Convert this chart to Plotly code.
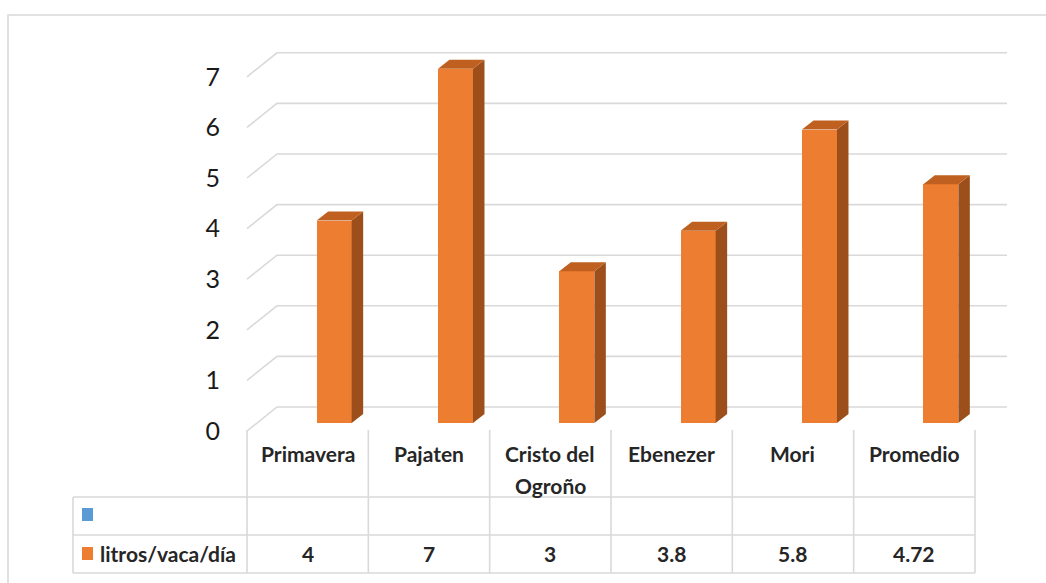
import plotly.graph_objects as go

# ---------------- data ----------------
categories = ["Primavera", "Pajaten", "Cristo del<br>Ogroño", "Ebenezer", "Mori", "Promedio"]
values = [4, 7, 3, 3.8, 5.8, 4.72]
value_labels = ["4", "7", "3", "3.8", "5.8", "4.72"]
series_name = "litros/vaca/día"
y_ticks = [0, 1, 2, 3, 4, 5, 6, 7]

# ---------------- geometry (pixel based) ----------------
W, H = 1046, 583
PX_X0 = 247.0      # left edge of first category (front plane)
PX_COL = 121.33    # width of one category
PX_Y0 = 431.0      # front-plane zero line
PX_UNIT = 50.6     # pixels per value unit


def ux(px):  # pixel distance -> x units
    return px / PX_COL


def uy(px):  # pixel distance -> y units
    return px / PX_UNIT


def xdat(px):  # absolute pixel x -> data x
    return (px - PX_X0) / PX_COL - 0.5


def ydat(py):  # absolute pixel y -> data y
    return (PX_Y0 - py) / PX_UNIT


x_range = [xdat(0), xdat(W)]
y_range = [ydat(H), ydat(0)]

BACK_DX, BACK_DY = ux(30), uy(24)       # depth of the back wall
BAR_OFF, BAR_W = ux(26.5), ux(35)       # bar centre offset and width
BAR_BASE = uy(8)                        # bar front face raised above front floor
BAR_DX, BAR_DY = ux(11.5), uy(9)        # bar depth

FRONT = "#ED7D31"
TOP = "#BF6020"
SIDE = "#9C4F1B"
GRID = "#D9D9D9"
TEXT = "#262626"
FONT = "Lato, Carlito, Calibri, sans-serif"
TXT_SIZE = 21

n = len(categories)
fig = go.Figure()
shapes = []

# ---------- grid lines (back wall + side wall), below the bars ----------
x_back_l = -0.5 + BACK_DX
x_back_r = xdat(1007)
for v in y_ticks:
    path = (f"M {-0.5},{v} L {x_back_l},{v + BACK_DY} L {x_back_r},{v + BACK_DY}")
    shapes.append(dict(type="path", xref="x", yref="y", path=path, layer="below",
                       line=dict(color=GRID, width=1.6)))

# ---------- bars: front faces ----------
bar_x = [i + BAR_OFF for i in range(n)]
fig.add_trace(go.Bar(x=bar_x, y=values, base=[BAR_BASE] * n, width=BAR_W,
                     marker=dict(color=FRONT, line=dict(width=0)),
                     hoverinfo="skip", showlegend=False))

# ---------- bars: side and top faces ----------
sx, sy, tx, ty = [], [], [], []
for xc, v in zip(bar_x, values):
    xl, xr = xc - BAR_W / 2, xc + BAR_W / 2
    top = v + BAR_BASE
    sx += [xr, xr + BAR_DX, xr + BAR_DX, xr, xr, None]
    sy += [BAR_BASE, BAR_BASE + BAR_DY, top + BAR_DY, top, BAR_BASE, None]
    tx += [xl, xl + BAR_DX, xr + BAR_DX, xr, xl, None]
    ty += [top, top + BAR_DY, top + BAR_DY, top, top, None]
fig.add_trace(go.Scatter(x=sx, y=sy, mode="lines", fill="toself", fillcolor=SIDE,
                         line=dict(width=0, color=SIDE), hoverinfo="skip", showlegend=False))
fig.add_trace(go.Scatter(x=tx, y=ty, mode="lines", fill="toself", fillcolor=TOP,
                         line=dict(width=0, color=TOP), hoverinfo="skip", showlegend=False))

# ---------- data table ----------
t_left = xdat(73)
t_top = ydat(430)
r1 = ydat(497)
r2 = ydat(535)
r3 = ydat(573)
for k in range(n + 1):
    shapes.append(dict(type="line", xref="x", yref="y", x0=k - 0.5, x1=k - 0.5,
                       y0=t_top, y1=r3, line=dict(color=GRID, width=1.6)))
shapes.append(dict(type="line", xref="x", yref="y", x0=t_left, x1=t_left,
                   y0=r1, y1=r3, line=dict(color=GRID, width=1.6)))
for yy in (r1, r2, r3):
    shapes.append(dict(type="line", xref="x", yref="y", x0=t_left, x1=n - 0.5,
                       y0=yy, y1=yy, line=dict(color=GRID, width=1.6)))

# legend keys
shapes.append(dict(type="rect", xref="x", yref="y", x0=xdat(82), x1=xdat(93),
                   y0=ydat(521), y1=ydat(508), fillcolor="#5B9BD5", line=dict(width=0)))
shapes.append(dict(type="rect", xref="x", yref="y", x0=xdat(82), x1=xdat(93),
                   y0=ydat(560), y1=ydat(547), fillcolor=FRONT, line=dict(width=0)))

# outer chart border
shapes.append(dict(type="rect", xref="paper", yref="paper", x0=8 / W, x1=1.02,
                   y0=-0.02, y1=1 - 15 / H, line=dict(color=GRID, width=1.6),
                   fillcolor="rgba(0,0,0,0)"))

annotations = []
LINE_GAP = 32
for i, c in enumerate(categories):
    for j, part in enumerate(c.split("<br>")):
        annotations.append(dict(x=i, y=ydat(453 + j * LINE_GAP), xref="x", yref="y",
                                text=f"<b>{part}</b>", showarrow=False,
                                xanchor="center", yanchor="middle",
                                font=dict(family=FONT, size=TXT_SIZE, color=TEXT)))
for i, t in enumerate(value_labels):
    annotations.append(dict(x=i, y=ydat(553), xref="x", yref="y", text=f"<b>{t}</b>",
                            showarrow=False, xanchor="center", yanchor="middle",
                            font=dict(family=FONT, size=TXT_SIZE, color=TEXT)))
annotations.append(dict(x=xdat(98), y=ydat(553), xref="x", yref="y",
                        text=f"<b>{series_name}</b>", showarrow=False,
                        xanchor="left", yanchor="middle",
                        font=dict(family=FONT, size=TXT_SIZE, color=TEXT)))

fig.update_layout(
    width=W, height=H,
    margin=dict(l=0, r=0, t=0, b=0),
    paper_bgcolor="white", plot_bgcolor="white",
    showlegend=False, bargap=0, hovermode=False,
    xaxis=dict(range=x_range, visible=False, fixedrange=True),
    yaxis=dict(range=y_range, anchor="free", position=PX_X0 / W,
               tickvals=y_ticks, ticktext=[str(v) for v in y_ticks],
               ticks="outside", ticklen=22, tickcolor="rgba(0,0,0,0)",
               showgrid=False, zeroline=False, showline=False,
               tickfont=dict(family=FONT, size=25, color="#1a1a1a"),
               fixedrange=True),
    shapes=shapes,
    annotations=annotations,
)

fig.write_html("out.html", config={"displayModeBar": False},
               post_script="document.body.style.margin='0';")
